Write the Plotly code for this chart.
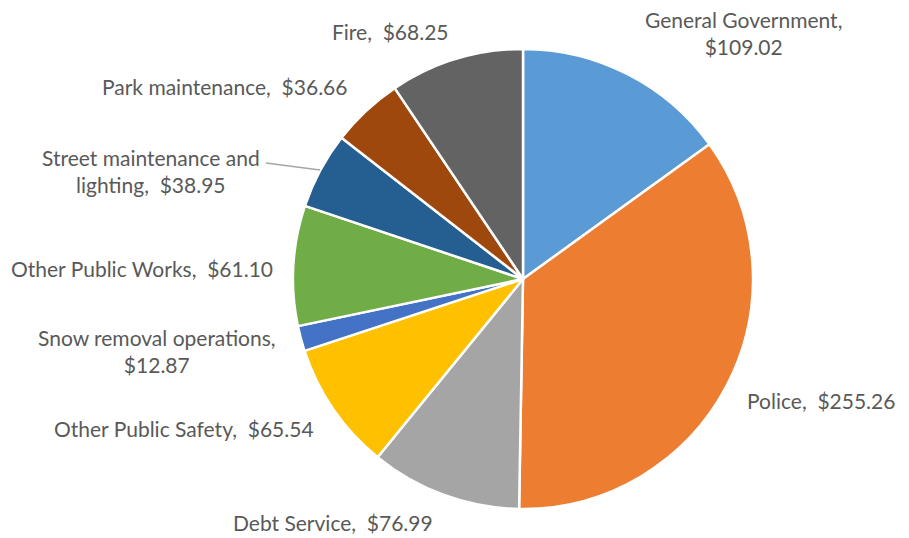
import plotly.graph_objects as go

# The browser page has an 8px body margin; compensate so pixel positions match.
OFF = 8
W, H = 909 - OFF, 538 - OFF

categories = ["General Government", "Police", "Debt Service", "Other Public Safety",
              "Snow removal operations", "Other Public Works",
              "Street maintenance and lighting", "Park maintenance", "Fire"]
values = [109.02, 255.26, 76.99, 65.54, 12.87, 61.10, 38.95, 36.66, 68.25]
colors = ["#5B9BD5", "#ED7D31", "#A5A5A5", "#FFC000", "#4472C4",
          "#70AD47", "#255E91", "#9E480E", "#636363"]

# label text (with line breaks as in the reference) and label centre in window pixels
label_names = ["General Government,<br>", "Police,  ", "Debt Service,  ",
               "Other Public Safety,  ", "Snow removal operations,<br>",
               "Other Public Works,  ", "Street maintenance and<br>lighting,  ",
               "Park maintenance,  ", "Fire,  "]
label_pos = [(743, 33), (821, 400), (333, 522), (184, 428), (157, 351),
             (142, 268), (151, 171), (224, 87), (390, 32)]

cx, cy, r = 523 - OFF, 279 - OFF, 230


def px(x):
    return (x - OFF) / W


def py(y):
    return 1 - (y - OFF) / H


fig = go.Figure(go.Pie(
    labels=categories, values=values, sort=False, direction="clockwise",
    rotation=0, textinfo="none", hoverinfo="label+value",
    marker=dict(colors=colors, line=dict(color="white", width=2.5)),
    domain=dict(x=[(cx - r) / W, (cx + r) / W], y=[(H - cy - r) / H, (H - cy + r) / H]),
    showlegend=False,
))

font = dict(family="Lato, Carlito, Calibri, sans-serif", size=21, color="#595959")
for name, v, (lx, ly) in zip(label_names, values, label_pos):
    fig.add_annotation(x=px(lx), y=py(ly), xref="paper", yref="paper",
                       text=f"{name}${v:.2f}", showarrow=False, font=font,
                       align="center", xanchor="center", yanchor="middle")

# leader line for Street maintenance label
fig.add_shape(type="line", xref="paper", yref="paper",
              x0=px(266), y0=py(163), x1=px(320), y1=py(170),
              line=dict(color="#A6A6A6", width=1.5))

fig.update_layout(width=W, height=H, margin=dict(l=0, r=0, t=0, b=0),
                  paper_bgcolor="white", plot_bgcolor="white")
fig.write_html("out.html")
